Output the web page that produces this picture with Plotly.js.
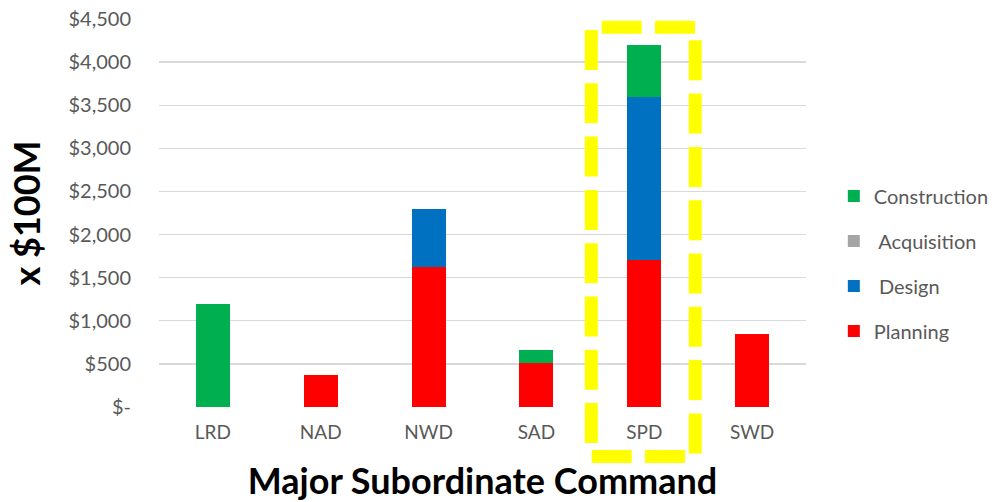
<!DOCTYPE html>
<html>
<head>
<meta charset="utf-8">
<script src="https://cdn.plot.ly/plotly-3.0.1.min.js"></script>
<style>html,body{margin:0;padding:0;background:#fff;}#chart{width:1000px;height:502px;}</style>
</head>
<body>
<div id="chart"></div>
<script>
const categories = ['LRD', 'NAD', 'NWD', 'SAD', 'SPD', 'SWD'];
const planning = [0, 375, 1625, 510, 1710, 845];
const design = [0, 0, 675, 0, 1890, 0];
const acquisition = [0, 0, 0, 0, 0, 0];
const construction = [1190, 0, 0, 150, 600, 0];
const tickVals = [0, 500, 1000, 1500, 2000, 2500, 3000, 3500, 4000, 4500];
const tickText = ['$-', '$500', '$1,000', '$1,500', '$2,000', '$2,500', '$3,000', '$3,500', '$4,000', '$4,500'];

const FONT = 'Lato, "Open Sans", sans-serif';
function bar(name, y, color, group, rank) {
  return {type: 'bar', name: name, x: categories, y: y, legendgroup: group, legendrank: rank,
    marker: {color: color, line: {width: 0}}, hoverinfo: 'x+y+name'};
}
const traces = [
  bar('Planning', planning, '#ff0000', 'a', 4),
  bar(' Design', design, '#0070c0', 'b', 3),
  bar(' Acquisition', acquisition, '#a5a5a5', 'c', 2),
  bar('Construction', construction, '#00b050', 'd', 1)
];

function px(x) { return (x - 159) / 647; }
function py(y) { return (407 - y) / 388; }
const yl = {color: '#ffff00', width: 13, dash: '40px,13.3px'};
const shapes = [
  {type: 'line', xref: 'paper', yref: 'paper', x0: px(591.3), x1: px(591.3), y0: py(30), y1: py(443.5), line: yl},
  {type: 'line', xref: 'paper', yref: 'paper', x0: px(695.2), x1: px(695.2), y0: py(40.3), y1: py(453.7), line: yl},
  {type: 'line', xref: 'paper', yref: 'paper', x0: px(601.7), x1: px(695), y0: py(27.3), y1: py(27.3), line: yl},
  {type: 'line', xref: 'paper', yref: 'paper', x0: px(591.7), x1: px(685), y0: py(456.5), y1: py(456.5), line: yl}
];

const layout = {
  width: 1000, height: 502,
  margin: {l: 159, r: 194, t: 19, b: 95, autoexpand: false},
  paper_bgcolor: '#ffffff', plot_bgcolor: '#ffffff',
  barmode: 'stack', bargap: 0.685,
  font: {family: FONT, color: '#595959', size: 19},
  showlegend: true,
  legend: {x: 1.043, xanchor: 'left', y: 0.37, yanchor: 'middle', traceorder: 'grouped',
    tracegroupgap: 16, font: {family: FONT, size: 20, color: '#595959'}, bgcolor: 'rgba(0,0,0,0)'},
  xaxis: {type: 'category', showgrid: false, showline: false, zeroline: false, ticks: '',
    tickfont: {family: FONT, size: 19, color: '#595959'}, ticklabelstandoff: 12,
    title: {text: 'Major Subordinate Command', font: {family: FONT, size: 36, color: '#000000', weight: 'bold'}, standoff: 26},
    automargin: false},
  yaxis: {range: [0, 4500], tickvals: tickVals, ticktext: tickText, showgrid: true,
    gridcolor: '#d9d9d9', gridwidth: 1.3, zeroline: false, showline: false, ticks: '',
    tickfont: {family: FONT, size: 20, color: '#595959'}, ticklabelstandoff: 27,
    title: {text: 'x $100M', font: {family: FONT, size: 36, color: '#000000', weight: 'bold'}, standoff: 16},
    automargin: false},
  shapes: shapes
};
Plotly.newPlot('chart', traces, layout, {displayModeBar: false, staticPlot: true});
</script>
</body>
</html>
